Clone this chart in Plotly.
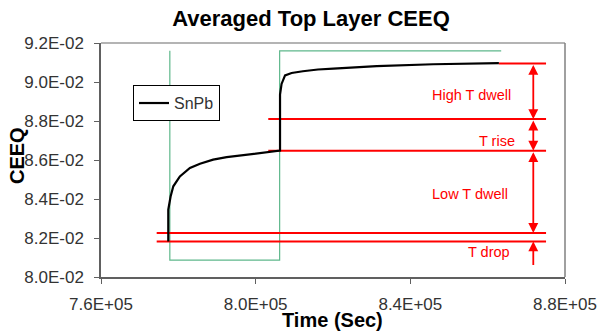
import plotly.graph_objects as go

# Averaged top-layer CEEQ through one thermal cycle
time_s = [7.774e5, 7.774e5, 7.780e5, 7.787e5, 7.804e5, 7.830e5, 7.856e5, 7.890e5,
          7.925e5, 7.959e5, 8.003e5, 8.0585e5, 8.063e5, 8.063e5, 8.067e5, 8.076e5,
          8.093e5, 8.122e5, 8.161e5, 8.201e5, 8.313e5, 8.459e5, 8.589e5, 8.629e5]
ceeq_snpb = [0.08182, 0.08345, 0.08413, 0.08465, 0.08516, 0.08559, 0.08581, 0.08602,
             0.08615, 0.08624, 0.08636, 0.08648, 0.08648, 0.08935, 0.08990, 0.09034,
             0.09046, 0.09055, 0.09064, 0.09069, 0.09081, 0.09091, 0.09096, 0.09097]

# Temperature profile (square wave), scaled onto the CEEQ axis
temp_time = [7.778e5, 7.778e5, 8.062e5, 8.062e5, 8.635e5]
temp_level = [0.0916, 0.08087, 0.08087, 0.0916, 0.0916]

# Reference levels marking each stage of the cycle
ref_levels = [0.09095, 0.08810, 0.08648, 0.082256, 0.081826]
ref_start = [8.629e5, 8.0326e5, 8.0326e5, 7.744e5, 7.744e5]
ref_end = 8.751e5
arrow_x = 8.718e5
drop_tail = 0.08054

# Stage labels
stage_names = ["High T dwell", "T rise", "Low T dwell", "T drop"]
stage_x = [8.5586e5, 8.623e5, 8.554e5, 8.6033e5]
stage_y = [0.08935, 0.08699, 0.08426, 0.08126]

x_ticks = [7.6e5, 8.0e5, 8.4e5, 8.8e5]
x_labels = ["7.6E+05", "8.0E+05", "8.4E+05", "8.8E+05"]
y_ticks = [0.080, 0.082, 0.084, 0.086, 0.088, 0.090, 0.092]
y_labels = ["8.0E-02", "8.2E-02", "8.4E-02", "8.6E-02", "8.8E-02", "9.0E-02", "9.2E-02"]

FONT = "Liberation Sans, Arial, sans-serif"
RED = "#ff0000"

fig = go.Figure()

fig.add_trace(go.Scatter(x=temp_time, y=temp_level, mode="lines",
                         line=dict(color="#5fb88c", width=1.2),
                         showlegend=False, hoverinfo="skip"))

for lvl, x0 in zip(ref_levels, ref_start):
    fig.add_trace(go.Scatter(x=[x0, ref_end], y=[lvl, lvl], mode="lines",
                             line=dict(color=RED, width=2),
                             showlegend=False, hoverinfo="skip"))

fig.add_trace(go.Scatter(x=time_s, y=ceeq_snpb, mode="lines", name="SnPb",
                         line=dict(color="black", width=2.2)))

annotations = []
# double-headed arrows between consecutive levels
for top, bot in zip(ref_levels[:3], ref_levels[1:4]):
    annotations.append(dict(x=arrow_x, y=bot, ax=arrow_x, ay=top,
                            xref="x", yref="y", axref="x", ayref="y",
                            text="", showarrow=True, arrowside="end+start",
                            arrowhead=2, arrowsize=1.1, arrowwidth=1.8,
                            arrowcolor=RED, standoff=0, startstandoff=0))
# single arrow pointing up to the bottom level
annotations.append(dict(x=arrow_x, y=ref_levels[4], ax=arrow_x, ay=drop_tail,
                        xref="x", yref="y", axref="x", ayref="y",
                        text="", showarrow=True, arrowhead=2, arrowsize=1.1,
                        arrowwidth=1.8, arrowcolor=RED, standoff=0))

for name, sx, sy in zip(stage_names, stage_x, stage_y):
    annotations.append(dict(x=sx, y=sy, xref="x", yref="y", text=name,
                            showarrow=False, xanchor="center", yanchor="middle",
                            font=dict(family=FONT, size=14.5, color=RED)))

# axis titles
annotations.append(dict(x=-0.181, y=0.517, xref="paper", yref="paper",
                        text="<b>CEEQ</b>", textangle=-90, showarrow=False,
                        xanchor="center", yanchor="middle",
                        font=dict(family=FONT, size=20, color="black")))
annotations.append(dict(x=0.498, y=-0.184, xref="paper", yref="paper",
                        text="<b>Time (Sec)</b>", showarrow=False,
                        xanchor="center", yanchor="middle",
                        font=dict(family=FONT, size=20, color="black")))

shapes = [
    dict(type="line", xref="paper", yref="paper", x0=0, x1=1, y0=1, y1=1,
         line=dict(color="#b4b4b4", width=2)),
    dict(type="line", xref="paper", yref="paper", x0=1, x1=1, y0=0, y1=1,
         line=dict(color="#808080", width=1.5)),
]

fig.update_layout(
    width=597, height=333,
    margin=dict(l=101, r=32, t=43, b=56, autoexpand=False),
    paper_bgcolor="white", plot_bgcolor="white",
    font=dict(family=FONT, size=17, color="#333"),
    title=dict(text="<b>Averaged Top Layer CEEQ</b>", x=0.521, xanchor="center",
               y=1 - 18 / 333, yanchor="middle", yref="container",
               font=dict(family=FONT, size=22, color="black")),
    showlegend=True,
    legend=dict(x=0.069, y=0.82, xanchor="left", yanchor="top",
                bgcolor="white", bordercolor="black", borderwidth=1,
                font=dict(family=FONT, size=16, color="#333"),
                itemwidth=30, tracegroupgap=0),
    annotations=annotations,
    shapes=shapes,
)

fig.update_xaxes(range=[7.6e5, 8.8e5], tickvals=x_ticks, ticktext=x_labels,
                 showgrid=False, zeroline=False, showline=True, automargin=False,
                 linecolor="#606060", linewidth=1.5, ticks="outside",
                 ticklen=5, tickcolor="#606060", ticklabelstandoff=6,
                 tickfont=dict(family=FONT, size=17, color="#333"))
fig.update_yaxes(range=[0.080, 0.092], tickvals=y_ticks, ticktext=y_labels,
                 showgrid=False, zeroline=False, showline=True, automargin=False,
                 linecolor="#606060", linewidth=1.5, ticks="outside",
                 ticklen=5, tickcolor="#606060", ticklabelstandoff=7,
                 tickfont=dict(family=FONT, size=17, color="#333"))

fig.write_html("out.html")
